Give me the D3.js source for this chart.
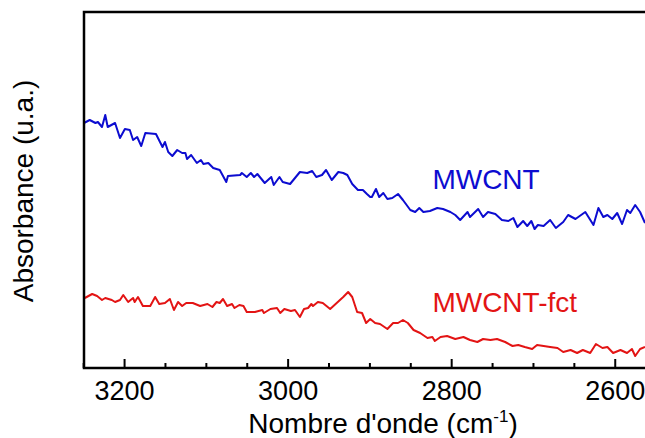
<!DOCTYPE html>
<html>
<head>
<meta charset="utf-8">
<script src="https://cdn.jsdelivr.net/npm/d3@7"></script>
<style>
  html, body { margin: 0; padding: 0; background: #fff; }
  svg { display: block; font-family: "Liberation Sans", Arial, sans-serif; }
</style>
</head>
<body>
<svg id="chart" width="645" height="438"></svg>
<script>
// FTIR spectra, C–H stretching region (wavenumber in cm-1, absorbance in a.u.)
const mwcntWave = [3249,3242,3235,3232,3227,3223,3220,3211,3205,3199,3193,3189,3184,3179,3174,3161,3153,3150,3146,3141,
  3135,3129,3125,3123,3118,3111,3106,3103,3097,3091,3083,3075,3073,3058,3056,3050,3045,3041,3037,3028,
  3020,3017,3010,3006,2997,2985,2976,2970,2965,2958,2953,2946,2938,2932,2927,2921,2914,2908,2903,2899,
  2897,2892,2888,2883,2878,2872,2865,2859,2850,2844,2839,2834,2826,2817,2810,2801,2795,2789,2780,2777,
  2767,2761,2755,2746,2738,2730,2724,2719,2712,2707,2702,2698,2694,2687,2679,2672,2663,2657,2648,2636,
  2626,2620,2614,2609,2603,2597,2591,2585,2581,2575,2569,2563];
const mwcntAbs = [2.45,2.48,2.45,2.46,2.41,2.53,2.41,2.45,2.30,2.39,2.38,2.28,2.31,2.22,2.35,2.34,2.21,2.26,2.16,2.12,
  2.18,2.15,2.15,2.09,2.13,2.05,2.08,2.04,2.05,2.00,1.98,1.86,1.92,1.93,1.95,1.91,1.95,1.91,1.94,1.85,
  1.91,1.83,1.91,1.86,1.84,1.96,1.95,1.97,1.91,1.93,1.98,1.88,1.96,1.95,1.93,1.84,1.78,1.78,1.74,1.71,
  1.71,1.79,1.71,1.75,1.69,1.70,1.74,1.68,1.58,1.56,1.60,1.56,1.57,1.60,1.59,1.56,1.53,1.48,1.56,1.51,
  1.59,1.51,1.56,1.54,1.48,1.47,1.50,1.41,1.47,1.42,1.47,1.39,1.43,1.42,1.48,1.40,1.46,1.53,1.49,1.56,
  1.43,1.60,1.51,1.53,1.49,1.55,1.44,1.58,1.55,1.63,1.56,1.45];

const fctWave = [3248,3239,3233,3227,3223,3215,3211,3205,3201,3195,3189,3187,3183,3177,3168,3162,3157,3150,3144,3139,
  3134,3129,3124,3116,3107,3098,3092,3087,3083,3079,3074,3068,3065,3059,3054,3050,3040,3031,3029,3021,
  3013,3009,3004,2996,2991,2985,2980,2975,2971,2969,2963,2957,2948,2940,2932,2926,2921,2915,2909,2904,
  2899,2893,2887,2878,2871,2865,2859,2853,2846,2838,2829,2823,2820,2813,2805,2795,2785,2777,2768,2761,
  2752,2744,2734,2725,2718,2710,2701,2695,2687,2679,2670,2663,2654,2646,2639,2630,2623,2615,2609,2602,
  2593,2585,2579,2575,2569,2563];
const fctAbs = [0.70,0.74,0.72,0.68,0.70,0.68,0.66,0.68,0.73,0.66,0.70,0.66,0.71,0.62,0.62,0.71,0.64,0.65,0.69,0.58,
  0.66,0.62,0.65,0.65,0.62,0.64,0.61,0.66,0.65,0.69,0.62,0.64,0.60,0.63,0.62,0.56,0.56,0.58,0.55,0.59,
  0.60,0.55,0.59,0.57,0.58,0.51,0.59,0.60,0.64,0.62,0.66,0.65,0.59,0.65,0.71,0.76,0.71,0.56,0.55,0.45,
  0.49,0.45,0.44,0.39,0.45,0.45,0.48,0.45,0.38,0.35,0.30,0.31,0.27,0.31,0.32,0.29,0.31,0.28,0.26,0.29,
  0.28,0.29,0.26,0.22,0.23,0.21,0.19,0.23,0.22,0.21,0.20,0.16,0.18,0.15,0.18,0.15,0.24,0.20,0.21,0.15,
  0.18,0.15,0.19,0.12,0.19,0.21];

const majorTicks = [3200, 3000, 2800, 2600];
const minorTicks = [3250, 3150, 3100, 3050, 2950, 2900, 2850, 2750, 2700, 2650];

const series = [
  { name: "MWCNT", wave: mwcntWave, abs: mwcntAbs, color: "#0c0cd0", labelWave: 2823, labelAbs: 1.79 },
  { name: "MWCNT-fct", wave: fctWave, abs: fctAbs, color: "#e31414", labelWave: 2823, labelAbs: 0.56 }
];

(function () {
  const svg = d3.select("#chart");
  const mLeft = 84, mRight = 645, mTop = 12, mBottom = 368;

  const x = d3.scaleLinear().domain([3249, 2563]).range([mLeft, mRight]);
  const y = d3.scaleLinear().domain([0, 3.56]).range([mBottom, mTop]);

  svg.append("rect").attr("width", 645).attr("height", 438).attr("fill", "#fff");

  svg.append("defs").append("clipPath").attr("id", "plot")
    .append("rect").attr("x", mLeft).attr("y", mTop).attr("width", mRight - mLeft).attr("height", mBottom - mTop);

  const line = d3.line().x(d => x(d[0])).y(d => y(d[1]));

  const g = svg.append("g").attr("clip-path", "url(#plot)");
  series.forEach(s => {
    g.append("path")
      .datum(d3.zip(s.wave, s.abs))
      .attr("d", line)
      .attr("fill", "none")
      .attr("stroke", s.color)
      .attr("stroke-width", 2)
      .attr("stroke-linejoin", "round");
  });

  // series names
  series.forEach(s => {
    svg.append("text")
      .attr("x", x(s.labelWave)).attr("y", y(s.labelAbs))
      .attr("fill", s.color)
      .attr("font-size", 28)
      .text(s.name);
  });

  // bottom axis with inward ticks
  const xAxisMajor = d3.axisBottom(x).tickValues(majorTicks).tickSize(-9).tickPadding(13).tickFormat(d3.format("d"));
  const xAxisMinor = d3.axisBottom(x).tickValues(minorTicks).tickSize(-5).tickFormat("");

  const ax = svg.append("g").attr("transform", `translate(0,${mBottom})`);
  ax.call(xAxisMajor);
  ax.select(".domain").remove();
  ax.selectAll(".tick line").attr("stroke", "#000").attr("stroke-width", 2);
  ax.selectAll(".tick text").attr("font-size", 27).attr("fill", "#000")
    .attr("font-family", "Liberation Sans, Arial, sans-serif");

  const axm = svg.append("g").attr("transform", `translate(0,${mBottom})`);
  axm.call(xAxisMinor);
  axm.select(".domain").remove();
  axm.selectAll(".tick line").attr("stroke", "#000").attr("stroke-width", 2);

  // frame: left, top and bottom lines
  svg.append("path")
    .attr("d", `M${mRight},${mTop}H${mLeft}V${mBottom}H${mRight}`)
    .attr("fill", "none").attr("stroke", "#000").attr("stroke-width", 2.5);

  // axis titles
  const xt = svg.append("text")
    .attr("x", 383).attr("y", 433)
    .attr("text-anchor", "middle").attr("font-size", 28).attr("fill", "#000");
  xt.append("tspan").text("Nombre d'onde (cm");
  xt.append("tspan").attr("font-size", 17).attr("dy", -11).text("-1");
  xt.append("tspan").attr("dy", 11).text(")");

  svg.append("text")
    .attr("transform", "translate(33,191) rotate(-90)")
    .attr("text-anchor", "middle").attr("font-size", 28).attr("fill", "#000")
    .text("Absorbance (u.a.)");
})();
</script>
</body>
</html>
